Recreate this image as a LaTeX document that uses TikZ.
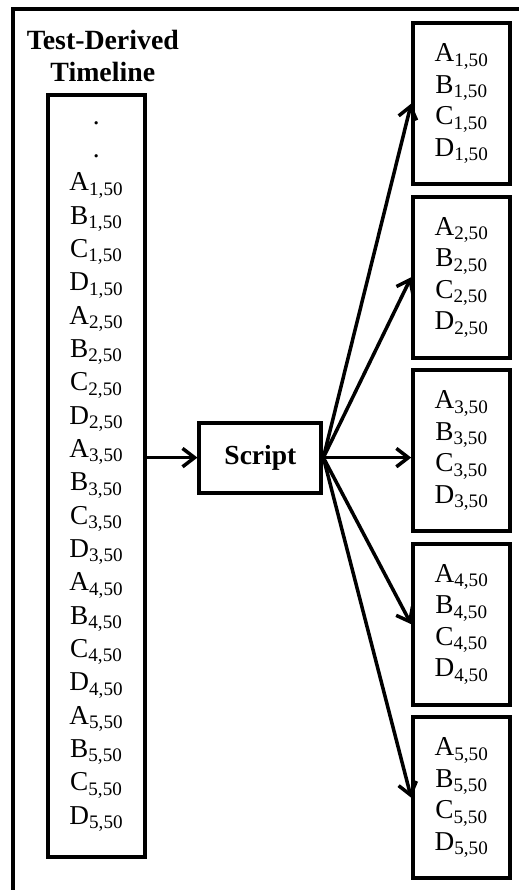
\documentclass[tikz,border=0pt]{standalone}
\usepackage{fontspec}
\setmainfont{Liberation Serif}
\usetikzlibrary{arrows.meta, positioning}

\begin{document}
\begin{tikzpicture}[
    >={Straight Barb[length=3mm, width=4.6mm]},
    font=\fontsize{19.4}{23.7}\selectfont,
    box/.style      ={draw, line width=2.8pt, align=center, inner sep=0pt},
    tlbox/.style    ={box, minimum width=2.42cm, minimum height=19.05cm},
    outbox/.style   ={box, minimum width=2.42cm, minimum height=4.02cm,
                      font=\fontsize{19.4}{22.4}\selectfont},
    scriptbox/.style={box, minimum width=3.05cm, minimum height=1.75cm,
                      font=\fontsize{19.6}{23}\selectfont\bfseries},
    flow/.style     ={->, line width=2.5pt}
]
\useasboundingbox (0,0) rectangle (12.95,-22.25);

% outer frame (runs off the page on the right and bottom)
\draw[line width=2.8pt] (0.33,-23) -- (0.33,-0.23) -- (13.5,-0.23);

% title and timeline column
\node[font=\fontsize{19.8}{22.8}\selectfont\bfseries, align=center]
    (title) at (2.57,-1.4) {Test-Derived\\Timeline};
\node[tlbox] (tl) at (2.41,-11.91) {.\\.\\
    A\textsubscript{1,50}\\B\textsubscript{1,50}\\C\textsubscript{1,50}\\D\textsubscript{1,50}\\
    A\textsubscript{2,50}\\B\textsubscript{2,50}\\C\textsubscript{2,50}\\D\textsubscript{2,50}\\
    A\textsubscript{3,50}\\B\textsubscript{3,50}\\C\textsubscript{3,50}\\D\textsubscript{3,50}\\
    A\textsubscript{4,50}\\B\textsubscript{4,50}\\C\textsubscript{4,50}\\D\textsubscript{4,50}\\
    A\textsubscript{5,50}\\B\textsubscript{5,50}\\C\textsubscript{5,50}\\D\textsubscript{5,50}};

% script in the middle
\node[scriptbox] (script) at (6.51,-11.44) {Script};

% output blocks, stacked on the right
\node[outbox] (out1) at (11.54,-2.59)
    {A\textsubscript{1,50}\\B\textsubscript{1,50}\\C\textsubscript{1,50}\\D\textsubscript{1,50}};
\node[outbox, below=0.22cm of out1] (out2)
    {A\textsubscript{2,50}\\B\textsubscript{2,50}\\C\textsubscript{2,50}\\D\textsubscript{2,50}};
\node[outbox, below=0.22cm of out2] (out3)
    {A\textsubscript{3,50}\\B\textsubscript{3,50}\\C\textsubscript{3,50}\\D\textsubscript{3,50}};
\node[outbox, below=0.22cm of out3] (out4)
    {A\textsubscript{4,50}\\B\textsubscript{4,50}\\C\textsubscript{4,50}\\D\textsubscript{4,50}};
\node[outbox, below=0.22cm of out4] (out5)
    {A\textsubscript{5,50}\\B\textsubscript{5,50}\\C\textsubscript{5,50}\\D\textsubscript{5,50}};

% --- Arrows ---
\draw[flow] (script.west -| tl.east) -- (script.west);
\draw[flow] (script.east) -- (out1.west);
\draw[flow] (script.east) -- (out2.west);
\draw[flow] (script.east) -- (script.east -| out3.west);
\draw[flow] (script.east) -- (out4.west);
\draw[flow] (script.east) -- (out5.west);

\end{tikzpicture}
\end{document}
